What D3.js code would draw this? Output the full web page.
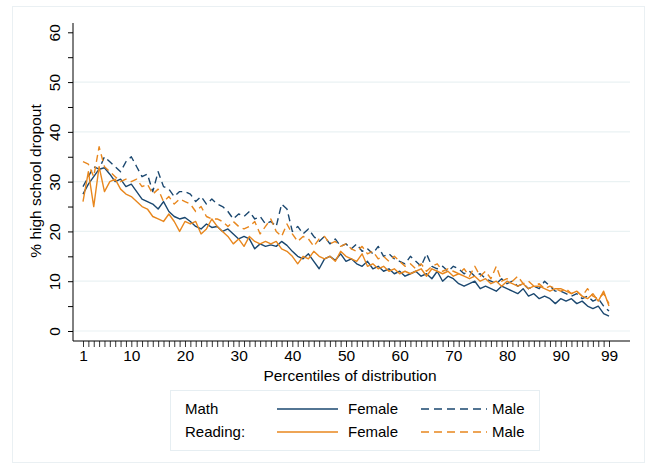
<!DOCTYPE html>
<html>
<head>
<meta charset="utf-8">
<script src="https://cdn.jsdelivr.net/npm/d3@7"></script>
<style>
  html, body { margin: 0; padding: 0; background: #ffffff; }
  svg { display: block; font-family: "Liberation Sans", Arial, sans-serif; }
</style>
</head>
<body>
<svg id="chart" width="651" height="464"></svg>
<script>
// ---------- data ----------
const percentiles = d3.range(1, 100);
const xTickValues = [1, 10, 20, 30, 40, 50, 60, 70, 80, 90, 99];
const yTickValues = [0, 10, 20, 30, 40, 50, 60];

const mathFemale = [
  27.5, 29.5, 31, 32.5, 32.8, 31.5, 30, 30.5, 29, 29.5,
  28, 26.5, 26, 25.5, 24.5, 26, 24, 23, 22.5, 22.8,
  22, 21, 20.5, 21.5, 20.8, 21, 20, 20.5, 19.5, 18.5,
  19, 18.5, 16.5, 17.5, 17, 17.3, 17, 18, 17.2, 16,
  15, 14.5, 15.5, 14, 12.5, 14.5, 15, 14.2, 15.5, 14,
  14.5, 13.5, 13, 14, 12.5, 13, 12, 12.5, 11.5, 12,
  11, 11.5, 12, 11, 11.5, 10.5, 12, 10, 11, 10.5,
  9.5, 9, 9.5, 10, 8.5, 9, 8.5, 8, 9, 8.5,
  8, 7.5, 8.5, 7, 7.5, 6.5, 7, 6.5, 5.5, 6.5,
  6, 6.5, 5.5, 6, 5, 4.5, 5, 3.5, 3
];
const mathMale = [
  29, 31, 33, 32.5, 35, 34, 33, 32, 34, 35,
  33, 31, 31.5, 28, 32, 29, 28.5, 27, 28, 28,
  27.5, 26, 27, 25.5, 26.5, 25.5, 25, 24, 22.5, 23.5,
  23, 24, 22.5, 23, 21.5, 22, 21, 25.5, 24.5, 20,
  21, 19.5, 20.5, 19, 18, 19, 17.5, 18.5, 17, 17.5,
  16.5, 17.5, 16, 16.5, 15.5, 17, 15, 15.5, 14.5, 14,
  13.5, 15, 14, 13, 15.5, 13, 12.5, 13, 12, 13,
  12.5, 11.5, 12, 11, 11.5, 10.5, 10, 9.5, 10.5, 9.5,
  10, 9, 9.5, 8.5, 9, 8.5, 10, 9, 8, 8,
  7.5, 7, 7.5, 6.5, 7, 6, 6.5, 5, 4
];
const readingFemale = [
  26, 32, 25, 33, 28, 30, 30.5, 28.5, 27.5, 27,
  26, 25, 24.5, 23, 22.5, 22, 23.5, 22, 20, 22,
  21.5, 22, 19.5, 20.5, 22.5, 21, 20, 19, 17.5, 18.5,
  17, 19, 18, 17.5, 18, 17.5, 18, 16.5, 16, 15,
  13.5, 15, 14.5, 16, 15, 14.5, 15, 14, 16, 15,
  14.5, 14, 15.5, 13, 13.5, 12.5, 13, 12, 12.5, 11.5,
  12, 11.5, 12, 12.5, 11, 12.5, 12, 11.5, 12, 11,
  11.5, 11, 10.5, 11, 10, 10.5, 9.5, 10, 9, 10,
  9.5, 9, 9.5, 8.5, 9, 9, 8.5, 8, 8.5, 8.5,
  8, 7.5, 8, 7, 6.5, 7.5, 6, 8, 5
];
const readingMale = [
  34, 33.5, 31, 37, 33, 32, 31, 30, 30.5, 30,
  30.5, 29, 29.5, 27.5, 28.5, 26, 27, 25.5, 26.5, 26,
  25.5, 24, 25, 23, 22.5, 22.5, 22, 21, 22, 21,
  20.5, 21, 22, 19.5, 21, 22.5, 20, 19, 21.5, 19.5,
  18, 19, 18.5, 17, 18.5, 19, 17.5, 18, 17, 17.5,
  16.5, 16, 17, 15.5, 16, 14.5, 15, 14, 15, 14,
  13, 13.5, 12.5, 13.5, 12, 13, 13.5, 12, 12.5, 12,
  11.5, 12.5, 11, 13, 11, 12, 10.5, 13, 10, 10.5,
  10, 11, 9.5, 10, 9, 9.5, 8.5, 9, 8.5, 8,
  8.5, 7.5, 8, 7, 8.5, 7, 6.5, 7.5, 5.5
];

const NAVY = "#1a476f";
const ORANGE = "#e8871e";

const series = [
  { values: mathFemale, color: NAVY, dash: null },
  { values: mathMale, color: NAVY, dash: "7,4.5" },
  { values: readingFemale, color: ORANGE, dash: null },
  { values: readingMale, color: ORANGE, dash: "7,4.5" }
];

// ---------- layout ----------
const svg = d3.select("#chart");
const axisLeft = 73, axisRight = 630, axisBottom = 341, axisTop = 23;

const x = d3.scaleLinear().domain([1, 99]).range([83, 609]);
const y = d3.scaleLinear().domain([0, 60]).range([331, 32.3]);

// outer graph frame
svg.append("rect")
  .attr("x", 12.5).attr("y", 6.5).attr("width", 632).attr("height", 456)
  .attr("fill", "#ffffff").attr("stroke", "#eaf0f3").attr("stroke-width", 1);

// gridlines
svg.append("g").selectAll("line")
  .data(yTickValues.filter(v => v < 60))
  .join("line")
  .attr("x1", axisLeft).attr("x2", axisRight)
  .attr("y1", d => y(d)).attr("y2", d => y(d))
  .attr("stroke", "#eaf2f3").attr("stroke-width", 1.2);

// series lines
const line = d3.line()
  .x((d, i) => x(percentiles[i]))
  .y(d => y(d));

svg.append("g").selectAll("path")
  .data(series)
  .join("path")
  .attr("d", d => line(d.values))
  .attr("fill", "none")
  .attr("stroke", d => d.color)
  .attr("stroke-width", 1.4)
  .attr("stroke-linejoin", "round")
  .attr("stroke-dasharray", d => d.dash);

// y axis
const yAxis = d3.axisLeft(y)
  .tickValues(d3.range(0, 61, 5))
  .tickSize(5)
  .tickFormat(d => (d % 10 === 0 ? d : ""));
const gy = svg.append("g").attr("transform", `translate(${axisLeft},0)`).call(yAxis);
gy.select(".domain").remove();
gy.selectAll(".tick line").attr("stroke", "#000").attr("stroke-width", 1);
gy.selectAll(".tick text")
  .attr("font-size", 15.5)
  .attr("fill", "#000")
  .attr("transform", "rotate(-90)")
  .attr("x", 0).attr("y", -13)
  .attr("dy", "0")
  .attr("text-anchor", "middle");
svg.append("line")
  .attr("x1", axisLeft).attr("x2", axisLeft)
  .attr("y1", axisTop).attr("y2", axisBottom)
  .attr("stroke", "#000").attr("stroke-width", 1);

// x axis
const xAxis = d3.axisBottom(x)
  .tickValues(percentiles)
  .tickSize(6)
  .tickFormat(d => (xTickValues.includes(d) ? d : ""));
const gx = svg.append("g").attr("transform", `translate(0,${axisBottom})`).call(xAxis);
gx.select(".domain").remove();
gx.selectAll(".tick line").attr("stroke", "#000").attr("stroke-width", 0.8);
gx.selectAll(".tick text")
  .attr("font-size", 15.5)
  .attr("fill", "#000")
  .attr("y", 9);
svg.append("line")
  .attr("x1", axisLeft).attr("x2", axisRight)
  .attr("y1", axisBottom).attr("y2", axisBottom)
  .attr("stroke", "#000").attr("stroke-width", 1);

// axis titles
svg.append("text")
  .attr("x", 350).attr("y", 381)
  .attr("text-anchor", "middle")
  .attr("font-size", 15.5)
  .text("Percentiles of distribution");
svg.append("text")
  .attr("transform", "translate(41,181) rotate(-90)")
  .attr("text-anchor", "middle")
  .attr("font-size", 15.5)
  .text("% high school dropout");

// legend
const legend = svg.append("g");
legend.append("rect")
  .attr("x", 170.5).attr("y", 390.5).attr("width", 369).attr("height", 60)
  .attr("fill", "#fff").attr("stroke", "#e6eef2").attr("stroke-width", 1);

const legendRows = [
  { label: "Math", items: [series[0], series[1]], y: 409 },
  { label: "Reading:", items: [series[2], series[3]], y: 432 }
];
const itemNames = ["Female", "Male"];
const lineX = [[277, 338], [421, 487]];
const textX = [348, 492];

legendRows.forEach(row => {
  legend.append("text")
    .attr("x", 185).attr("y", row.y + 5)
    .attr("font-size", 15)
    .text(row.label);
  row.items.forEach((s, j) => {
    legend.append("line")
      .attr("x1", lineX[j][0]).attr("x2", lineX[j][1])
      .attr("y1", row.y).attr("y2", row.y)
      .attr("stroke", s.color).attr("stroke-width", 1.5)
      .attr("stroke-dasharray", s.dash ? "8,5" : null);
    legend.append("text")
      .attr("x", textX[j]).attr("y", row.y + 5)
      .attr("font-size", 15)
      .text(itemNames[j]);
  });
});
</script>
</body>
</html>
